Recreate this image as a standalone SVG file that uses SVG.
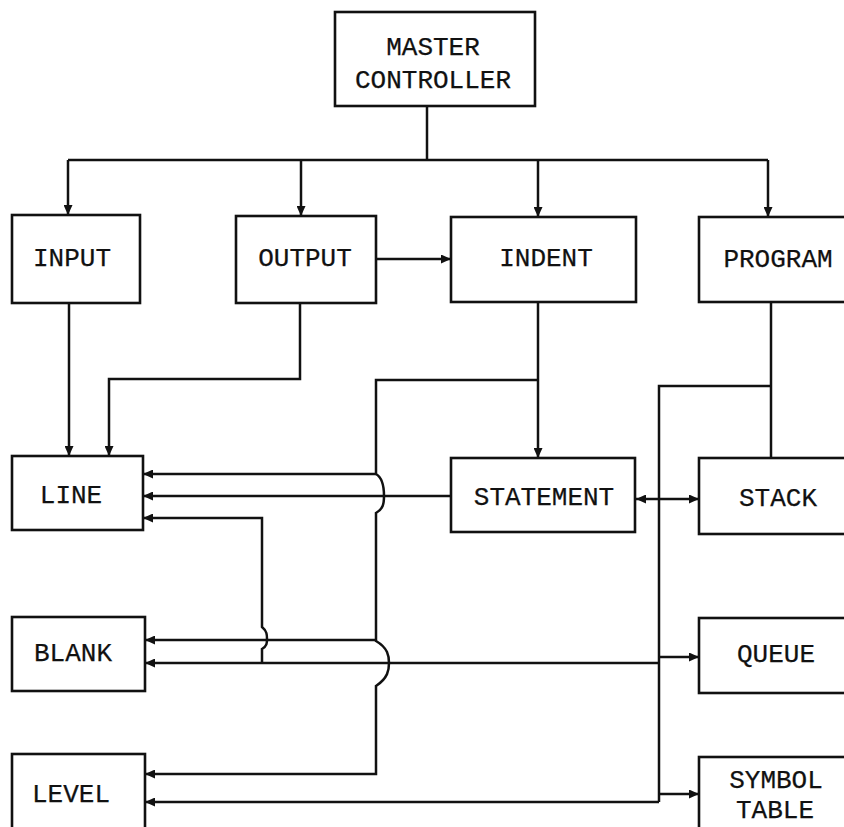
<svg xmlns="http://www.w3.org/2000/svg" width="844" height="827" viewBox="0 0 844 827">
<style>
.box{fill:#fff;stroke:#111;stroke-width:2.6}
.lbl{font-family:"Liberation Mono","Courier New",monospace;font-size:26px;fill:#111;stroke:#111;stroke-width:0.25;text-anchor:middle}
.c{fill:none;stroke:#111;stroke-width:2.5}
.a{marker-end:url(#ah)}
.aa{marker-end:url(#ah);marker-start:url(#ahs)}
</style>
<defs>
<marker id="ah" markerUnits="userSpaceOnUse" markerWidth="11" markerHeight="9" refX="10" refY="4.5" orient="auto">
<path d="M0,0 L10,4.5 L0,9 z" fill="#111"/>
</marker>
<marker id="ahs" markerUnits="userSpaceOnUse" markerWidth="11" markerHeight="9" refX="10" refY="4.5" orient="auto-start-reverse">
<path d="M0,0 L10,4.5 L0,9 z" fill="#111"/>
</marker>
</defs>
<rect width="844" height="827" fill="#fff"/>
<g id="connectors">
<path class="c" d="M427,106 V160"/>
<path class="c" d="M68,160 H768"/>
<path class="c a" d="M68,160 V215"/>
<path class="c a" d="M301,160 V216"/>
<path class="c a" d="M538,160 V217"/>
<path class="c a" d="M768,160 V217"/>
<path class="c a" d="M376,259 H451"/>
<path class="c a" d="M69,303 V456"/>
<path class="c a" d="M300,303 V379 H109 V456"/>
<path class="c a" d="M538,302 V458"/>
<path class="c a" d="M538,380 H376 V474 C383,478 384,488 384,496 C384,504 383,509 376,513 V641 C388,648 389,656 389,663 C389,670 388,678 376,686 V774 H145"/>
<path class="c a" d="M376,474 H143"/>
<path class="c a" d="M376,640 H145"/>
<path class="c a" d="M451,496 H143"/>
<path class="c a" d="M262,663 V649 C267,646 267,643 267,639 C267,635 267,631 262,627 V518 H143"/>
<path class="c a" d="M659,663 H145"/>
<path class="c" d="M771,302 V458"/>
<path class="c" d="M771,386 H659 V802"/>
<path class="c a" d="M659,802 H145"/>
<path class="c a" d="M659,657 H699"/>
<path class="c a" d="M659,794 H699"/>
<path class="c aa" d="M636,499 H699"/>
</g>
<g id="master-controller">
<rect class="box" x="335" y="12" width="200" height="94"/>
<text class="lbl" x="433" y="55">MASTER</text>
<text class="lbl" x="433" y="88">CONTROLLER</text>
</g>
<g id="input">
<rect class="box" x="12" y="215" width="128" height="88"/>
<text class="lbl" x="72" y="266">INPUT</text>
</g>
<g id="output">
<rect class="box" x="236" y="216" width="140" height="87"/>
<text class="lbl" x="305" y="266">OUTPUT</text>
</g>
<g id="indent">
<rect class="box" x="451" y="217" width="185" height="85"/>
<text class="lbl" x="546" y="266">INDENT</text>
</g>
<g id="program">
<rect class="box" x="699" y="217" width="160" height="85"/>
<text class="lbl" x="778" y="267">PROGRAM</text>
</g>
<g id="line">
<rect class="box" x="12" y="456" width="131" height="74"/>
<text class="lbl" x="71" y="503">LINE</text>
</g>
<g id="statement">
<rect class="box" x="451" y="458" width="184" height="74"/>
<text class="lbl" x="544" y="505">STATEMENT</text>
</g>
<g id="stack">
<rect class="box" x="699" y="458" width="160" height="76"/>
<text class="lbl" x="778" y="506">STACK</text>
</g>
<g id="blank">
<rect class="box" x="12" y="617" width="133" height="74"/>
<text class="lbl" x="73" y="661">BLANK</text>
</g>
<g id="queue">
<rect class="box" x="699" y="618" width="160" height="75"/>
<text class="lbl" x="776" y="662">QUEUE</text>
</g>
<g id="level">
<rect class="box" x="12" y="754" width="133" height="100"/>
<text class="lbl" x="71" y="802">LEVEL</text>
</g>
<g id="symbol-table">
<rect class="box" x="699" y="757" width="160" height="100"/>
<text class="lbl" x="776" y="788">SYMBOL</text>
<text class="lbl" x="775" y="818" font-size="25">TABLE</text>
</g>
</svg>
